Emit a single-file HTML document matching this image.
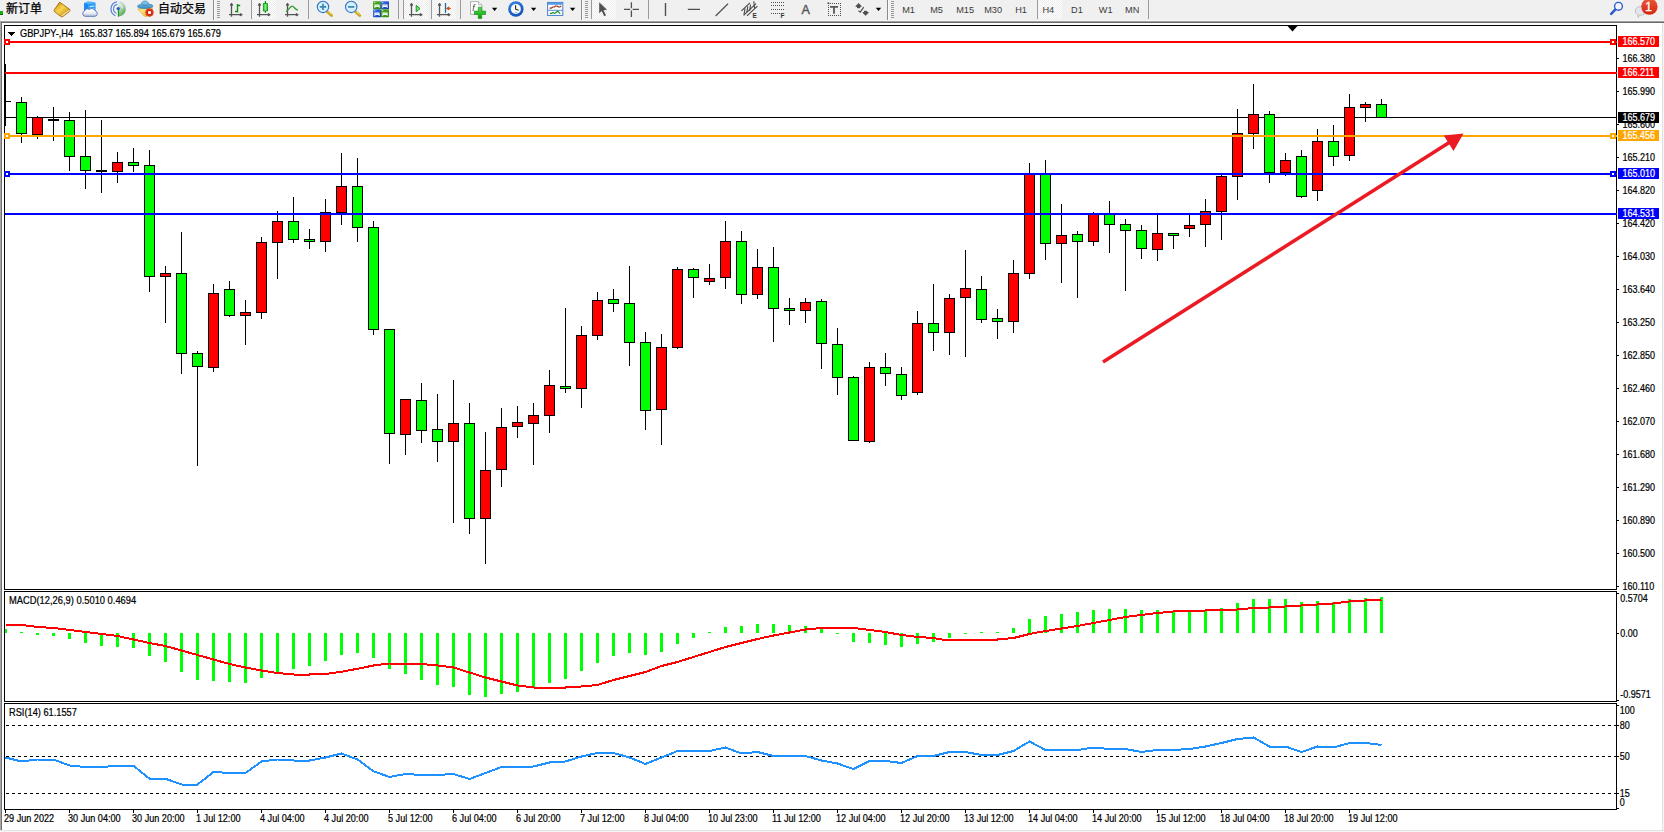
<!DOCTYPE html>
<html><head><meta charset="utf-8"><title>GBPJPY H4</title>
<style>
html,body{margin:0;padding:0;background:#fff;overflow:hidden}
body{width:1664px;height:832px;position:relative;font-family:"Liberation Sans","Noto Sans CJK SC",sans-serif}
#tb{position:absolute;left:0;top:0;width:1664px;height:20px;background:#f0f0f0}
#tbl{position:absolute;left:0;top:20px;width:1664px;height:3px;background:linear-gradient(#f6f6f6 0,#f6f6f6 33%,#a0a0a0 33%,#a0a0a0 66%,#696969 66%)}
#le1{position:absolute;left:0;top:22px;width:1px;height:808px;background:#a8a8a8}
#le2{position:absolute;left:1px;top:22px;width:1px;height:808px;background:#707070}
#re{position:absolute;left:1662px;top:23px;width:2px;height:809px;background:linear-gradient(90deg,#e2e2e2 50%,#f6f6f6 50%)}
#be{position:absolute;left:0;top:830px;width:1664px;height:2px;background:linear-gradient(#e2e2e2 50%,#f6f6f6 50%)}
.t{position:absolute;white-space:nowrap;color:#000}
</style></head><body>
<div id="tb"></div><div id="tbl"></div><div id="le1"></div><div id="le2"></div><div id="re"></div><div id="be"></div>
<svg id="toolbar" width="1664" height="24" viewBox="0 0 1664 24" style="position:absolute;left:0;top:0" font-family="'Liberation Sans','Noto Sans CJK SC',sans-serif">
<defs>
<pattern id="dith" width="2" height="2" patternUnits="userSpaceOnUse"><rect width="2" height="2" fill="#fff"/><rect width="1" height="1" fill="#ececec"/><rect x="1" y="1" width="1" height="1" fill="#ececec"/></pattern>
<linearGradient id="gold" x1="0" y1="0" x2="1" y2="1"><stop offset="0" stop-color="#c98a12"/><stop offset=".45" stop-color="#f7d64a"/><stop offset="1" stop-color="#b87610"/></linearGradient>
<linearGradient id="cube" x1="0" y1="0" x2="1" y2="0"><stop offset="0" stop-color="#1e8cf0"/><stop offset="1" stop-color="#7cc4ff"/></linearGradient>
<radialGradient id="radar" cx=".5" cy=".5" r=".5"><stop offset="0" stop-color="#d8ead8"/><stop offset="1" stop-color="#7fbf7f"/></radialGradient>
<linearGradient id="hat" x1="0" y1="0" x2="0" y2="1"><stop offset="0" stop-color="#8fd0f0"/><stop offset="1" stop-color="#3a8cc8"/></linearGradient>
<linearGradient id="face" x1="0" y1="0" x2="1" y2="1"><stop offset="0" stop-color="#fff3a0"/><stop offset="1" stop-color="#e8b820"/></linearGradient>
<linearGradient id="gplus" x1="0" y1="0" x2="0" y2="1"><stop offset="0" stop-color="#58e058"/><stop offset="1" stop-color="#0a9a0a"/></linearGradient>
<linearGradient id="gcan" x1="0" y1="0" x2="1" y2="0"><stop offset="0" stop-color="#22c022"/><stop offset=".5" stop-color="#7cf07c"/><stop offset="1" stop-color="#22c022"/></linearGradient>
<radialGradient id="clk" cx=".4" cy=".3" r=".8"><stop offset="0" stop-color="#3c8cf0"/><stop offset="1" stop-color="#0a4cb0"/></radialGradient>
<linearGradient id="badge" x1="0" y1="0" x2="0" y2="1"><stop offset="0" stop-color="#ea5a3a"/><stop offset="1" stop-color="#d6220e"/></linearGradient>
<linearGradient id="tg" x1="0" y1="0" x2="1" y2="1"><stop offset="0" stop-color="#58b020"/><stop offset="1" stop-color="#2a8a10"/></linearGradient>
<linearGradient id="tb2" x1="0" y1="0" x2="1" y2="1"><stop offset="0" stop-color="#4a7ae8"/><stop offset="1" stop-color="#1038b8"/></linearGradient>
<g id="axes" fill="none" stroke="#555" stroke-width="1.3"><path d="M3.5 3.5V16.8M1 14.7H13.6"/><path d="M2.3 5.3L3.5 3.1 4.7 5.3zM12.2 13.5L14.3 14.7 12.2 15.9z" stroke-width=".9" fill="#555"/></g>
<path id="dd" d="M0 0h5.4l-2.7 3.2z" fill="#000"/>
<g id="grip" fill="#9a9a9a"><rect y="1" width="3" height="1"/><rect y="3" width="3" height="1"/><rect y="5" width="3" height="1"/><rect y="7" width="3" height="1"/><rect y="9" width="3" height="1"/><rect y="11" width="3" height="1"/><rect y="13" width="3" height="1"/><rect y="15" width="3" height="1"/><rect y="17" width="3" height="1"/></g>
</defs>
<rect x="252" y="0" width="24" height="19" fill="url(#dith)"/>
<rect x="404" y="0" width="24" height="19" fill="url(#dith)"/>
<rect x="432" y="0" width="24" height="19" fill="url(#dith)"/>
<rect x="592" y="0" width="24" height="19" fill="url(#dith)"/>
<rect x="1038" y="0" width="24" height="19" fill="url(#dith)"/>
<rect x="213" y="0" width="1" height="20" fill="#8a8a8a"/><rect x="214" y="0" width="1" height="20" fill="#fbfbfb"/>
<rect x="581" y="0" width="1" height="20" fill="#8a8a8a"/><rect x="582" y="0" width="1" height="20" fill="#fbfbfb"/>
<rect x="887" y="0" width="1" height="20" fill="#8a8a8a"/><rect x="888" y="0" width="1" height="20" fill="#fbfbfb"/>
<rect x="251" y="0" width="1" height="19" fill="#9a9a9a"/>
<rect x="308" y="0" width="1" height="19" fill="#9a9a9a"/>
<rect x="398" y="0" width="1" height="19" fill="#9a9a9a"/>
<rect x="403" y="0" width="1" height="19" fill="#9a9a9a"/>
<rect x="431" y="0" width="1" height="19" fill="#9a9a9a"/>
<rect x="460" y="0" width="1" height="19" fill="#9a9a9a"/>
<rect x="591" y="0" width="1" height="19" fill="#9a9a9a"/>
<rect x="648" y="0" width="1" height="19" fill="#9a9a9a"/>
<rect x="1037" y="0" width="1" height="19" fill="#9a9a9a"/>
<rect x="1148" y="0" width="1" height="19" fill="#9a9a9a"/>
<use href="#grip" x="217" y="0"/>
<use href="#grip" x="585" y="0"/>
<use href="#grip" x="891" y="0"/>
<rect x="0" y="11" width="3" height="4" fill="#18b018"/><rect x="0" y="14" width="3" height="1" fill="#0a700a"/>
<text x="5.9" y="13" font-size="12" fill="#000" stroke="#000" stroke-width=".25">新订单</text>
<text x="158" y="13" font-size="12" fill="#000" stroke="#000" stroke-width=".25">自动交易</text>
<path d="M59.7 2.2L69.9 9.5Q70.4 10.6 69.3 11.7L62.7 16.6Q61.6 17.1 60.6 16.3L54.2 11.3Q53.7 10.4 54.6 9.3Z" fill="url(#gold)" stroke="#a86408" stroke-width=".9" stroke-linejoin="round"/><path d="M69.6 10.4L62 15.8" stroke="#f0e0b0" stroke-width="1.1" fill="none"/><path d="M58.8 3.4Q58 4.6 59.6 5.2" stroke="#a86408" stroke-width=".7" fill="none"/>
<path d="M84 3l4-1.8 7.4 1v8.600h-11.400z" fill="#58b4fa"/><path d="M84 3l4.200 1v7h-4.200z" fill="#1a8af0"/><path d="M88.200 4l7.200-.8v7.600h-7.200z" fill="#2c9cf6"/><path d="M89.600 6.200l4.600-.7v1l-4.600.7z" fill="#e6f4ff"/><path d="M89.600 8.400l4.600-.4v.8l-4.600.4z" fill="#a8d8ff"/>
<defs><linearGradient id="cld" x1="0" y1="0" x2="0" y2="1"><stop offset="0" stop-color="#ffffff"/><stop offset=".55" stop-color="#eef1f7"/><stop offset="1" stop-color="#b4c0da"/></linearGradient></defs>
<path d="M85 16.300a2.700 2.700 0 0 1 -.5-5.200a3 3 0 0 1 4.800-1.600a3.600 3.600 0 0 1 5.800 1.300a2.800 2.800 0 0 1 -.1 5.500z" fill="url(#cld)" stroke="#5472b4" stroke-width=".9"/>
<defs><linearGradient id="swp" x1="0" y1="0" x2=".6" y2="1"><stop offset="0" stop-color="#eef4ee"/><stop offset=".5" stop-color="#b4d6b4"/><stop offset="1" stop-color="#4c9e4c"/></linearGradient></defs>
<circle cx="118.200" cy="9" r="7.600" fill="#f2f4f8"/><path d="M118.200 1.400A7.600 7.600 0 0 1 118.200 16.600z" fill="url(#swp)"/>
<g fill="none" stroke-linecap="round"><path d="M116.600 1.900A7.300 7.300 0 0 0 115 15.500" stroke="#3f6fd0" stroke-width="1.200" opacity=".85"/><path d="M117 4.400A4.700 4.700 0 0 0 116.200 13.200" stroke="#3f6fd0" stroke-width="1.100" opacity=".8"/><path d="M119.600 4.500A4.700 4.700 0 0 1 122.800 8" stroke="#ffffff" stroke-width=".9" opacity=".7"/><path d="M120 1.900A7.300 7.300 0 0 1 125.400 8" stroke="#9ab4e0" stroke-width=".8" opacity=".6"/></g><circle cx="118.200" cy="8.600" r="1.700" fill="#2a5ad0"/><path d="M118.500 9.400V16.600" stroke="#1a9a1a" stroke-width="1.300"/>
<path d="M137.800 9L152.600 7.600 151 12 146.200 16.700 144.200 16z" fill="url(#face)" stroke="#d8a414" stroke-width=".6"/>
<path d="M137.400 6.600C138 4.600 140.400 4.400 141.400 4.200C141.600 1.700 143.400 1 145 1C146.600 1 148.400 1.700 148.600 4.200C150 4.300 152.600 4.500 153 6C152.400 7.600 148.600 8.500 145.200 8.500S138 8.200 137.400 6.600z" fill="url(#hat)" stroke="#2c7cb4" stroke-width=".7"/><path d="M141.600 4.600C143 5.600 147 5.600 148.400 4.600" stroke="#2c7cb4" stroke-width=".6" fill="none"/>
<circle cx="149.500" cy="12.600" r="4.100" fill="#d8240e"/><circle cx="149.500" cy="12.600" r="3.500" fill="none" stroke="#f06a50" stroke-width=".5" opacity=".6"/><rect x="148.100" y="11.200" width="2.800" height="2.800" fill="#fff"/>
<use href="#axes" x="228" y="0"/><path d="M237.5 4V12.6M237.5 5.5H240.2M235 11.5H237.5" stroke="#109010" stroke-width="1.4" fill="none"/>
<use href="#axes" x="256" y="0"/><path d="M265.4 1V12.8" stroke="#109010" stroke-width="1.3"/><rect x="263.3" y="3.6" width="4.3" height="7.3" fill="url(#gcan)" stroke="#109010" stroke-width=".8"/>
<use href="#axes" x="284" y="0"/><path d="M286.2 11.8C289 9 290.5 6.2 292.2 6.2S295 9.4 297.8 10" stroke="#2a9a2a" stroke-width="1.3" fill="none"/>
<path d="M326.6 11L331.5 15.5" stroke="#c8a010" stroke-width="2.8" stroke-linecap="round"/><path d="M327.2 11L331.2 14.6" stroke="#f4dc60" stroke-width="1" stroke-linecap="round"/>
<circle cx="323" cy="6.9" r="5.7" fill="#d4eefa" stroke="#2f72c4" stroke-width="1.1"/>
<path d="M319.8 6.9H326.2M323 3.7V10.1" stroke="#3c84ac" stroke-width="1.7" fill="none"/>
<path d="M354.8 11L359.7 15.5" stroke="#c8a010" stroke-width="2.8" stroke-linecap="round"/><path d="M355.4 11L359.4 14.6" stroke="#f4dc60" stroke-width="1" stroke-linecap="round"/>
<circle cx="351.2" cy="6.9" r="5.7" fill="#d4eefa" stroke="#2f72c4" stroke-width="1.1"/>
<path d="M348.0 6.9H354.4" stroke="#3c84ac" stroke-width="1.7" fill="none"/>
<rect x="373" y="1.2" width="8" height="8" rx=".8" fill="url(#tg)"/><path d="M374.4 4.4h5.2v3.6h-.8v-1h-3.6v1h-.8z" fill="#fff"/><rect x="375.2" y="5.4" width="3.6" height=".7" fill="#a8dca0"/><rect x="374.2" y="2.0" width="1" height="1" fill="#e8f4ff" opacity=".8"/>
<rect x="381" y="1.2" width="8" height="8" rx=".8" fill="url(#tb2)"/><path d="M382.4 4.4h5.2v3.6h-.8v-1h-3.6v1h-.8z" fill="#fff"/><rect x="383.2" y="5.4" width="3.6" height=".7" fill="#a8bcf0"/><rect x="382.2" y="2.0" width="1" height="1" fill="#e8f4ff" opacity=".8"/>
<rect x="373" y="9.2" width="8" height="8" rx=".8" fill="url(#tb2)"/><path d="M374.4 12.399999999999999h5.2v3.6h-.8v-1h-3.6v1h-.8z" fill="#fff"/><rect x="375.2" y="13.399999999999999" width="3.6" height=".7" fill="#a8bcf0"/><rect x="374.2" y="10.0" width="1" height="1" fill="#e8f4ff" opacity=".8"/>
<rect x="381" y="9.2" width="8" height="8" rx=".8" fill="url(#tg)"/><path d="M382.4 12.399999999999999h5.2v3.6h-.8v-1h-3.6v1h-.8z" fill="#fff"/><rect x="383.2" y="13.399999999999999" width="3.6" height=".7" fill="#a8dca0"/><rect x="382.2" y="10.0" width="1" height="1" fill="#e8f4ff" opacity=".8"/>
<use href="#axes" x="408" y="0"/><path d="M416.2 5.4V11.8L420 8.6z" fill="#7ce07c" stroke="#1a9a1a" stroke-width="1"/>
<use href="#axes" x="436" y="0"/><path d="M445.5 3V12.8" stroke="#1a6aa8" stroke-width="1.3"/><path d="M451 8.4H447M449 6.9L446.5 8.4 449 9.9z" stroke="#d84a08" stroke-width=".9" fill="#d84a08"/>
<path d="M470.5 1.6h8l3.4 3.2v9.6h-11.4z" fill="#fff" stroke="#a8a8a8" stroke-width=".9"/><path d="M478.5 1.6v3.2h3.4" fill="#e8e8e8" stroke="#a8a8a8" stroke-width=".7"/><text x="472.2" y="11" font-size="9" font-style="italic" fill="#4a4030">f</text>
<path d="M478.3 7.2h3.4v3.9h3.9v3.4h-3.9v3.9h-3.4v-3.9h-3.9v-3.4h3.9z" fill="url(#gplus)" stroke="#0a8a0a" stroke-width=".6"/>
<use href="#dd" x="491.9" y="7.8"/>
<circle cx="515.9" cy="9" r="7.7" fill="url(#clk)"/><circle cx="515.9" cy="9" r="5" fill="#f8f8f8"/><path d="M515.6 5.2V9.2L518.6 10.2" stroke="#222" stroke-width="1.1" fill="none"/><rect x="515.2" y="12" width="1.6" height=".8" fill="#5aa0f0"/>
<use href="#dd" x="530.9" y="7.8"/>
<rect x="547.6" y="2.4" width="15.2" height="13" fill="#fff" stroke="#3f7fd0" stroke-width="1"/><rect x="548" y="2.8" width="14.4" height="2" fill="#5a9ae8"/><path d="M548 10.3H562.6" stroke="#3f7fd0" stroke-width=".9"/><path d="M549.6 8.2h1.6l1.6-1.2h1.4l1.4-1h1.4l1.4 1h1.4l1.4-1" stroke="#a02808" stroke-width="1.2" fill="none"/><path d="M550 13.4h1.6l1.4-.9 1.6.9 1.4-.9 1.4-1.2 1.4.9 1.4 1.4" stroke="#18901a" stroke-width="1.2" fill="none"/>
<use href="#dd" x="569.9" y="7.8"/>
<path d="M599.2 2.2V13.2L601.7 11 604.3 16.2 606 15.3 603.5 10.2 607 9.8z" fill="#505050"/>
<path d="M624 9.4H630.2M632.6 9.4H639M631.4 2.2V8.2M631.4 10.6V16.9" stroke="#505050" stroke-width="1.3" fill="none"/>
<path d="M665.5 3V16M687.8 9.4H700" stroke="#505050" stroke-width="1.4" fill="none"/><path d="M715.6 16L728 3.7" stroke="#505050" stroke-width="1.2" fill="none"/>
<g stroke="#484848" fill="none"><path d="M741.4 10.8L750 2.8M743.6 15.4L756 3.6M747 15.8L757.4 6.2" stroke-width="1.15"/><path d="M745 8.4L744 14.6M747.8 6.4L746.8 12.4M750.6 4.6L749.6 10.8M753.8 1.2L754.6 8.4" stroke-width="1.1"/></g><text x="752.6" y="17.8" font-size="6.5" font-weight="bold" fill="#333">E</text>
<rect x="771" y="2" width="1" height="1" fill="#505050" shape-rendering="crispEdges"/>
<rect x="773" y="2" width="1" height="1" fill="#505050" shape-rendering="crispEdges"/>
<rect x="775" y="2" width="1" height="1" fill="#505050" shape-rendering="crispEdges"/>
<rect x="777" y="2" width="1" height="1" fill="#505050" shape-rendering="crispEdges"/>
<rect x="779" y="2" width="1" height="1" fill="#505050" shape-rendering="crispEdges"/>
<rect x="781" y="2" width="1" height="1" fill="#505050" shape-rendering="crispEdges"/>
<rect x="783" y="2" width="1" height="1" fill="#505050" shape-rendering="crispEdges"/>
<rect x="771" y="5" width="1" height="1" fill="#505050" shape-rendering="crispEdges"/>
<rect x="773" y="5" width="1" height="1" fill="#505050" shape-rendering="crispEdges"/>
<rect x="775" y="5" width="1" height="1" fill="#505050" shape-rendering="crispEdges"/>
<rect x="777" y="5" width="1" height="1" fill="#505050" shape-rendering="crispEdges"/>
<rect x="779" y="5" width="1" height="1" fill="#505050" shape-rendering="crispEdges"/>
<rect x="781" y="5" width="1" height="1" fill="#505050" shape-rendering="crispEdges"/>
<rect x="783" y="5" width="1" height="1" fill="#505050" shape-rendering="crispEdges"/>
<rect x="771" y="9" width="1" height="1" fill="#505050" shape-rendering="crispEdges"/>
<rect x="773" y="9" width="1" height="1" fill="#505050" shape-rendering="crispEdges"/>
<rect x="775" y="9" width="1" height="1" fill="#505050" shape-rendering="crispEdges"/>
<rect x="777" y="9" width="1" height="1" fill="#505050" shape-rendering="crispEdges"/>
<rect x="779" y="9" width="1" height="1" fill="#505050" shape-rendering="crispEdges"/>
<rect x="781" y="9" width="1" height="1" fill="#505050" shape-rendering="crispEdges"/>
<rect x="783" y="9" width="1" height="1" fill="#505050" shape-rendering="crispEdges"/>
<rect x="771" y="13" width="1" height="1" fill="#505050" shape-rendering="crispEdges"/>
<rect x="773" y="13" width="1" height="1" fill="#505050" shape-rendering="crispEdges"/>
<rect x="775" y="13" width="1" height="1" fill="#505050" shape-rendering="crispEdges"/>
<rect x="777" y="13" width="1" height="1" fill="#505050" shape-rendering="crispEdges"/>
<rect x="779" y="13" width="1" height="1" fill="#505050" shape-rendering="crispEdges"/>
<text x="780.6" y="17.7" font-size="6.5" font-weight="bold" fill="#333">F</text>
<text x="801.4" y="14" font-size="12.6" fill="#555" stroke="#555" stroke-width=".35">A</text>
<rect x="828" y="3" width="1" height="1" fill="#505050" shape-rendering="crispEdges"/><rect x="828" y="15" width="1" height="1" fill="#505050" shape-rendering="crispEdges"/>
<rect x="830" y="3" width="1" height="1" fill="#505050" shape-rendering="crispEdges"/><rect x="830" y="15" width="1" height="1" fill="#505050" shape-rendering="crispEdges"/>
<rect x="832" y="3" width="1" height="1" fill="#505050" shape-rendering="crispEdges"/><rect x="832" y="15" width="1" height="1" fill="#505050" shape-rendering="crispEdges"/>
<rect x="834" y="3" width="1" height="1" fill="#505050" shape-rendering="crispEdges"/><rect x="834" y="15" width="1" height="1" fill="#505050" shape-rendering="crispEdges"/>
<rect x="836" y="3" width="1" height="1" fill="#505050" shape-rendering="crispEdges"/><rect x="836" y="15" width="1" height="1" fill="#505050" shape-rendering="crispEdges"/>
<rect x="838" y="3" width="1" height="1" fill="#505050" shape-rendering="crispEdges"/><rect x="838" y="15" width="1" height="1" fill="#505050" shape-rendering="crispEdges"/>
<rect x="840" y="3" width="1" height="1" fill="#505050" shape-rendering="crispEdges"/><rect x="840" y="15" width="1" height="1" fill="#505050" shape-rendering="crispEdges"/>
<rect x="828" y="5" width="1" height="1" fill="#505050" shape-rendering="crispEdges"/><rect x="840" y="5" width="1" height="1" fill="#505050" shape-rendering="crispEdges"/>
<rect x="828" y="7" width="1" height="1" fill="#505050" shape-rendering="crispEdges"/><rect x="840" y="7" width="1" height="1" fill="#505050" shape-rendering="crispEdges"/>
<rect x="828" y="9" width="1" height="1" fill="#505050" shape-rendering="crispEdges"/><rect x="840" y="9" width="1" height="1" fill="#505050" shape-rendering="crispEdges"/>
<rect x="828" y="11" width="1" height="1" fill="#505050" shape-rendering="crispEdges"/><rect x="840" y="11" width="1" height="1" fill="#505050" shape-rendering="crispEdges"/>
<rect x="828" y="13" width="1" height="1" fill="#505050" shape-rendering="crispEdges"/><rect x="840" y="13" width="1" height="1" fill="#505050" shape-rendering="crispEdges"/>
<rect x="827.4" y="2.4" width="2" height="1.4" fill="#505050"/><path d="M830 6.8H838M834 6.8V13.8" stroke="#585858" stroke-width="1.8" fill="none"/>
<path d="M858.6 3L862 6.4 858.6 7.6 855.2 6.4z" fill="#505050"/><path d="M857 7h3.2v1.2H857z" fill="#505050"/><path d="M858.4 10.6l1.8 1.6 3.6-5" stroke="#505050" stroke-width="1.2" fill="none"/><path d="M865.6 15.8L862.2 12.4 865.6 11.2 869 12.4z" fill="#505050"/><path d="M864 10.8h3.2v1.2H864z" fill="#505050"/>
<use href="#dd" x="875.8" y="7.8"/>
<text transform="translate(902.2 12.8) scale(.93 1)" font-size="9.9" fill="#3a3a3a">M1</text>
<text transform="translate(930.2 12.8) scale(.93 1)" font-size="9.9" fill="#3a3a3a">M5</text>
<text transform="translate(956.2 12.8) scale(.93 1)" font-size="9.9" fill="#3a3a3a">M15</text>
<text transform="translate(984.2 12.8) scale(.93 1)" font-size="9.9" fill="#3a3a3a">M30</text>
<text transform="translate(1015.2 12.8) scale(.93 1)" font-size="9.9" fill="#3a3a3a">H1</text>
<text transform="translate(1042.4 12.8) scale(.93 1)" font-size="9.9" fill="#3a3a3a">H4</text>
<text transform="translate(1071 12.8) scale(.93 1)" font-size="9.9" fill="#3a3a3a">D1</text>
<text transform="translate(1098.8 12.8) scale(.93 1)" font-size="9.9" fill="#3a3a3a">W1</text>
<text transform="translate(1125 12.8) scale(.93 1)" font-size="9.9" fill="#3a3a3a">MN</text>
<path d="M1615.4 9.4L1611.2 13.8" stroke="#2a5cd0" stroke-width="2.6" stroke-linecap="round"/><circle cx="1618.5" cy="6.3" r="3.9" fill="#f6f6ff" stroke="#2a5cd0" stroke-width="1.4"/>
<path d="M1640.4 6.6c3 0 5.2 2 5.2 4.4s-2.2 4.2-5.2 4.2c-.3 0-.7 0-1 -.1l-1.2 2.4-.4-2.8c-1.6-.8-2.6-2.1-2.6-3.7 0-2.400 2.200-4.400 5.200-4.400z" fill="#e4e4ec" stroke="#b4b4b8" stroke-width=".8"/>
<circle cx="1649.4" cy="6.6" r="8.2" fill="url(#badge)"/><text x="1645" y="11" font-size="12.6" fill="#fff" stroke="#fff" stroke-width=".3">1</text>
</svg>
<svg id="chart" width="1664" height="832" viewBox="0 0 1664 832" style="position:absolute;left:0;top:0" font-family="'Liberation Sans', sans-serif" font-size="9.25" fill="#000">
<g shape-rendering="crispEdges">
<rect x="4" y="25" width="1613" height="1" fill="#000"/>
<rect x="4" y="589" width="1613" height="1" fill="#000"/>
<rect x="4" y="25" width="1" height="565" fill="#000"/>
<rect x="1616" y="25" width="1" height="565" fill="#000"/>
<rect x="4" y="591" width="1613" height="1" fill="#000"/>
<rect x="4" y="701" width="1613" height="1" fill="#000"/>
<rect x="4" y="591" width="1" height="111" fill="#000"/>
<rect x="1616" y="591" width="1" height="111" fill="#000"/>
<rect x="4" y="703" width="1613" height="1" fill="#000"/>
<rect x="4" y="809" width="1613" height="1" fill="#000"/>
<rect x="4" y="703" width="1" height="107" fill="#000"/>
<rect x="1616" y="703" width="1" height="107" fill="#000"/>
<rect x="5" y="117" width="1611" height="1" fill="#000"/>
<rect x="5" y="64" width="1" height="62" fill="#000"/>
<rect x="5" y="101" width="6" height="1" fill="#000"/>
<rect x="21" y="97" width="1" height="46" fill="#000"/>
<rect x="16" y="102" width="11" height="32" fill="#000"/>
<rect x="17" y="103" width="9" height="30" fill="#00ff00"/>
<rect x="37" y="116" width="1" height="23" fill="#000"/>
<rect x="32" y="117" width="11" height="18" fill="#000"/>
<rect x="33" y="118" width="9" height="16" fill="#ff0000"/>
<rect x="53" y="107" width="1" height="34" fill="#000"/>
<rect x="48" y="119" width="11" height="2" fill="#000"/>
<rect x="69" y="112" width="1" height="59" fill="#000"/>
<rect x="64" y="120" width="11" height="37" fill="#000"/>
<rect x="65" y="121" width="9" height="35" fill="#00ff00"/>
<rect x="85" y="110" width="1" height="79" fill="#000"/>
<rect x="80" y="156" width="11" height="15" fill="#000"/>
<rect x="81" y="157" width="9" height="13" fill="#00ff00"/>
<rect x="101" y="120" width="1" height="73" fill="#000"/>
<rect x="96" y="170" width="11" height="2" fill="#000"/>
<rect x="117" y="152" width="1" height="31" fill="#000"/>
<rect x="112" y="162" width="11" height="10" fill="#000"/>
<rect x="113" y="163" width="9" height="8" fill="#ff0000"/>
<rect x="133" y="148" width="1" height="24" fill="#000"/>
<rect x="128" y="162" width="11" height="4" fill="#000"/>
<rect x="129" y="163" width="9" height="2" fill="#00ff00"/>
<rect x="149" y="150" width="1" height="142" fill="#000"/>
<rect x="144" y="165" width="11" height="112" fill="#000"/>
<rect x="145" y="166" width="9" height="110" fill="#00ff00"/>
<rect x="165" y="266" width="1" height="57" fill="#000"/>
<rect x="160" y="273" width="11" height="4" fill="#000"/>
<rect x="161" y="274" width="9" height="2" fill="#ff0000"/>
<rect x="181" y="232" width="1" height="142" fill="#000"/>
<rect x="176" y="273" width="11" height="81" fill="#000"/>
<rect x="177" y="274" width="9" height="79" fill="#00ff00"/>
<rect x="197" y="351" width="1" height="115" fill="#000"/>
<rect x="192" y="353" width="11" height="14" fill="#000"/>
<rect x="193" y="354" width="9" height="12" fill="#00ff00"/>
<rect x="213" y="284" width="1" height="88" fill="#000"/>
<rect x="208" y="293" width="11" height="75" fill="#000"/>
<rect x="209" y="294" width="9" height="73" fill="#ff0000"/>
<rect x="229" y="281" width="1" height="36" fill="#000"/>
<rect x="224" y="289" width="11" height="27" fill="#000"/>
<rect x="225" y="290" width="9" height="25" fill="#00ff00"/>
<rect x="245" y="300" width="1" height="45" fill="#000"/>
<rect x="240" y="312" width="11" height="4" fill="#000"/>
<rect x="241" y="313" width="9" height="2" fill="#ff0000"/>
<rect x="261" y="237" width="1" height="82" fill="#000"/>
<rect x="256" y="242" width="11" height="71" fill="#000"/>
<rect x="257" y="243" width="9" height="69" fill="#ff0000"/>
<rect x="277" y="211" width="1" height="68" fill="#000"/>
<rect x="272" y="221" width="11" height="22" fill="#000"/>
<rect x="273" y="222" width="9" height="20" fill="#ff0000"/>
<rect x="293" y="197" width="1" height="46" fill="#000"/>
<rect x="288" y="221" width="11" height="19" fill="#000"/>
<rect x="289" y="222" width="9" height="17" fill="#00ff00"/>
<rect x="309" y="229" width="1" height="20" fill="#000"/>
<rect x="304" y="239" width="11" height="3" fill="#000"/>
<rect x="305" y="240" width="9" height="1" fill="#00ff00"/>
<rect x="325" y="199" width="1" height="53" fill="#000"/>
<rect x="320" y="212" width="11" height="30" fill="#000"/>
<rect x="321" y="213" width="9" height="28" fill="#ff0000"/>
<rect x="341" y="153" width="1" height="72" fill="#000"/>
<rect x="336" y="186" width="11" height="27" fill="#000"/>
<rect x="337" y="187" width="9" height="25" fill="#ff0000"/>
<rect x="357" y="158" width="1" height="84" fill="#000"/>
<rect x="352" y="186" width="11" height="42" fill="#000"/>
<rect x="353" y="187" width="9" height="40" fill="#00ff00"/>
<rect x="373" y="221" width="1" height="114" fill="#000"/>
<rect x="368" y="227" width="11" height="103" fill="#000"/>
<rect x="369" y="228" width="9" height="101" fill="#00ff00"/>
<rect x="389" y="329" width="1" height="135" fill="#000"/>
<rect x="384" y="329" width="11" height="105" fill="#000"/>
<rect x="385" y="330" width="9" height="103" fill="#00ff00"/>
<rect x="405" y="399" width="1" height="56" fill="#000"/>
<rect x="400" y="399" width="11" height="36" fill="#000"/>
<rect x="401" y="400" width="9" height="34" fill="#ff0000"/>
<rect x="421" y="383" width="1" height="60" fill="#000"/>
<rect x="416" y="400" width="11" height="31" fill="#000"/>
<rect x="417" y="401" width="9" height="29" fill="#00ff00"/>
<rect x="437" y="394" width="1" height="68" fill="#000"/>
<rect x="432" y="429" width="11" height="13" fill="#000"/>
<rect x="433" y="430" width="9" height="11" fill="#00ff00"/>
<rect x="453" y="380" width="1" height="143" fill="#000"/>
<rect x="448" y="423" width="11" height="19" fill="#000"/>
<rect x="449" y="424" width="9" height="17" fill="#ff0000"/>
<rect x="469" y="403" width="1" height="131" fill="#000"/>
<rect x="464" y="423" width="11" height="96" fill="#000"/>
<rect x="465" y="424" width="9" height="94" fill="#00ff00"/>
<rect x="485" y="432" width="1" height="132" fill="#000"/>
<rect x="480" y="470" width="11" height="49" fill="#000"/>
<rect x="481" y="471" width="9" height="47" fill="#ff0000"/>
<rect x="501" y="408" width="1" height="79" fill="#000"/>
<rect x="496" y="427" width="11" height="43" fill="#000"/>
<rect x="497" y="428" width="9" height="41" fill="#ff0000"/>
<rect x="517" y="406" width="1" height="32" fill="#000"/>
<rect x="512" y="422" width="11" height="5" fill="#000"/>
<rect x="513" y="423" width="9" height="3" fill="#ff0000"/>
<rect x="533" y="403" width="1" height="62" fill="#000"/>
<rect x="528" y="415" width="11" height="9" fill="#000"/>
<rect x="529" y="416" width="9" height="7" fill="#ff0000"/>
<rect x="549" y="370" width="1" height="63" fill="#000"/>
<rect x="544" y="385" width="11" height="31" fill="#000"/>
<rect x="545" y="386" width="9" height="29" fill="#ff0000"/>
<rect x="565" y="308" width="1" height="85" fill="#000"/>
<rect x="560" y="386" width="11" height="3" fill="#000"/>
<rect x="561" y="387" width="9" height="1" fill="#00ff00"/>
<rect x="581" y="326" width="1" height="82" fill="#000"/>
<rect x="576" y="335" width="11" height="54" fill="#000"/>
<rect x="577" y="336" width="9" height="52" fill="#ff0000"/>
<rect x="597" y="292" width="1" height="48" fill="#000"/>
<rect x="592" y="300" width="11" height="36" fill="#000"/>
<rect x="593" y="301" width="9" height="34" fill="#ff0000"/>
<rect x="613" y="289" width="1" height="23" fill="#000"/>
<rect x="608" y="299" width="11" height="5" fill="#000"/>
<rect x="609" y="300" width="9" height="3" fill="#00ff00"/>
<rect x="629" y="266" width="1" height="100" fill="#000"/>
<rect x="624" y="303" width="11" height="40" fill="#000"/>
<rect x="625" y="304" width="9" height="38" fill="#00ff00"/>
<rect x="645" y="332" width="1" height="98" fill="#000"/>
<rect x="640" y="342" width="11" height="69" fill="#000"/>
<rect x="641" y="343" width="9" height="67" fill="#00ff00"/>
<rect x="661" y="334" width="1" height="111" fill="#000"/>
<rect x="656" y="347" width="11" height="63" fill="#000"/>
<rect x="657" y="348" width="9" height="61" fill="#ff0000"/>
<rect x="677" y="267" width="1" height="82" fill="#000"/>
<rect x="672" y="269" width="11" height="79" fill="#000"/>
<rect x="673" y="270" width="9" height="77" fill="#ff0000"/>
<rect x="693" y="268" width="1" height="30" fill="#000"/>
<rect x="688" y="269" width="11" height="9" fill="#000"/>
<rect x="689" y="270" width="9" height="7" fill="#00ff00"/>
<rect x="709" y="264" width="1" height="21" fill="#000"/>
<rect x="704" y="278" width="11" height="4" fill="#000"/>
<rect x="705" y="279" width="9" height="2" fill="#ff0000"/>
<rect x="725" y="221" width="1" height="68" fill="#000"/>
<rect x="720" y="241" width="11" height="37" fill="#000"/>
<rect x="721" y="242" width="9" height="35" fill="#ff0000"/>
<rect x="741" y="231" width="1" height="73" fill="#000"/>
<rect x="736" y="241" width="11" height="54" fill="#000"/>
<rect x="737" y="242" width="9" height="52" fill="#00ff00"/>
<rect x="757" y="249" width="1" height="50" fill="#000"/>
<rect x="752" y="267" width="11" height="28" fill="#000"/>
<rect x="753" y="268" width="9" height="26" fill="#ff0000"/>
<rect x="773" y="247" width="1" height="95" fill="#000"/>
<rect x="768" y="267" width="11" height="42" fill="#000"/>
<rect x="769" y="268" width="9" height="40" fill="#00ff00"/>
<rect x="789" y="298" width="1" height="27" fill="#000"/>
<rect x="784" y="308" width="11" height="3" fill="#000"/>
<rect x="785" y="309" width="9" height="1" fill="#00ff00"/>
<rect x="805" y="298" width="1" height="25" fill="#000"/>
<rect x="800" y="302" width="11" height="9" fill="#000"/>
<rect x="801" y="303" width="9" height="7" fill="#ff0000"/>
<rect x="821" y="299" width="1" height="70" fill="#000"/>
<rect x="816" y="301" width="11" height="43" fill="#000"/>
<rect x="817" y="302" width="9" height="41" fill="#00ff00"/>
<rect x="837" y="328" width="1" height="67" fill="#000"/>
<rect x="832" y="344" width="11" height="34" fill="#000"/>
<rect x="833" y="345" width="9" height="32" fill="#00ff00"/>
<rect x="853" y="376" width="1" height="65" fill="#000"/>
<rect x="848" y="377" width="11" height="64" fill="#000"/>
<rect x="849" y="378" width="9" height="62" fill="#00ff00"/>
<rect x="869" y="362" width="1" height="81" fill="#000"/>
<rect x="864" y="367" width="11" height="75" fill="#000"/>
<rect x="865" y="368" width="9" height="73" fill="#ff0000"/>
<rect x="885" y="353" width="1" height="33" fill="#000"/>
<rect x="880" y="367" width="11" height="7" fill="#000"/>
<rect x="881" y="368" width="9" height="5" fill="#00ff00"/>
<rect x="901" y="367" width="1" height="33" fill="#000"/>
<rect x="896" y="374" width="11" height="22" fill="#000"/>
<rect x="897" y="375" width="9" height="20" fill="#00ff00"/>
<rect x="917" y="311" width="1" height="84" fill="#000"/>
<rect x="912" y="323" width="11" height="70" fill="#000"/>
<rect x="913" y="324" width="9" height="68" fill="#ff0000"/>
<rect x="933" y="284" width="1" height="67" fill="#000"/>
<rect x="928" y="323" width="11" height="10" fill="#000"/>
<rect x="929" y="324" width="9" height="8" fill="#00ff00"/>
<rect x="949" y="294" width="1" height="61" fill="#000"/>
<rect x="944" y="298" width="11" height="35" fill="#000"/>
<rect x="945" y="299" width="9" height="33" fill="#ff0000"/>
<rect x="965" y="250" width="1" height="107" fill="#000"/>
<rect x="960" y="288" width="11" height="10" fill="#000"/>
<rect x="961" y="289" width="9" height="8" fill="#ff0000"/>
<rect x="981" y="276" width="1" height="47" fill="#000"/>
<rect x="976" y="289" width="11" height="31" fill="#000"/>
<rect x="977" y="290" width="9" height="29" fill="#00ff00"/>
<rect x="997" y="309" width="1" height="30" fill="#000"/>
<rect x="992" y="318" width="11" height="4" fill="#000"/>
<rect x="993" y="319" width="9" height="2" fill="#00ff00"/>
<rect x="1013" y="260" width="1" height="73" fill="#000"/>
<rect x="1008" y="273" width="11" height="49" fill="#000"/>
<rect x="1009" y="274" width="9" height="47" fill="#ff0000"/>
<rect x="1029" y="163" width="1" height="116" fill="#000"/>
<rect x="1024" y="174" width="11" height="100" fill="#000"/>
<rect x="1025" y="175" width="9" height="98" fill="#ff0000"/>
<rect x="1045" y="160" width="1" height="100" fill="#000"/>
<rect x="1040" y="174" width="11" height="70" fill="#000"/>
<rect x="1041" y="175" width="9" height="68" fill="#00ff00"/>
<rect x="1061" y="204" width="1" height="79" fill="#000"/>
<rect x="1056" y="235" width="11" height="9" fill="#000"/>
<rect x="1057" y="236" width="9" height="7" fill="#ff0000"/>
<rect x="1077" y="231" width="1" height="67" fill="#000"/>
<rect x="1072" y="234" width="11" height="8" fill="#000"/>
<rect x="1073" y="235" width="9" height="6" fill="#00ff00"/>
<rect x="1093" y="212" width="1" height="34" fill="#000"/>
<rect x="1088" y="214" width="11" height="28" fill="#000"/>
<rect x="1089" y="215" width="9" height="26" fill="#ff0000"/>
<rect x="1109" y="201" width="1" height="52" fill="#000"/>
<rect x="1104" y="214" width="11" height="11" fill="#000"/>
<rect x="1105" y="215" width="9" height="9" fill="#00ff00"/>
<rect x="1125" y="219" width="1" height="72" fill="#000"/>
<rect x="1120" y="224" width="11" height="7" fill="#000"/>
<rect x="1121" y="225" width="9" height="5" fill="#00ff00"/>
<rect x="1141" y="225" width="1" height="34" fill="#000"/>
<rect x="1136" y="230" width="11" height="19" fill="#000"/>
<rect x="1137" y="231" width="9" height="17" fill="#00ff00"/>
<rect x="1157" y="214" width="1" height="47" fill="#000"/>
<rect x="1152" y="233" width="11" height="17" fill="#000"/>
<rect x="1153" y="234" width="9" height="15" fill="#ff0000"/>
<rect x="1173" y="233" width="1" height="16" fill="#000"/>
<rect x="1168" y="233" width="11" height="3" fill="#000"/>
<rect x="1169" y="234" width="9" height="1" fill="#00ff00"/>
<rect x="1189" y="214" width="1" height="23" fill="#000"/>
<rect x="1184" y="225" width="11" height="4" fill="#000"/>
<rect x="1185" y="226" width="9" height="2" fill="#ff0000"/>
<rect x="1205" y="199" width="1" height="48" fill="#000"/>
<rect x="1200" y="211" width="11" height="14" fill="#000"/>
<rect x="1201" y="212" width="9" height="12" fill="#ff0000"/>
<rect x="1221" y="175" width="1" height="65" fill="#000"/>
<rect x="1216" y="176" width="11" height="36" fill="#000"/>
<rect x="1217" y="177" width="9" height="34" fill="#ff0000"/>
<rect x="1237" y="109" width="1" height="91" fill="#000"/>
<rect x="1232" y="133" width="11" height="44" fill="#000"/>
<rect x="1233" y="134" width="9" height="42" fill="#ff0000"/>
<rect x="1253" y="84" width="1" height="65" fill="#000"/>
<rect x="1248" y="114" width="11" height="20" fill="#000"/>
<rect x="1249" y="115" width="9" height="18" fill="#ff0000"/>
<rect x="1269" y="111" width="1" height="72" fill="#000"/>
<rect x="1264" y="114" width="11" height="59" fill="#000"/>
<rect x="1265" y="115" width="9" height="57" fill="#00ff00"/>
<rect x="1285" y="153" width="1" height="23" fill="#000"/>
<rect x="1280" y="160" width="11" height="13" fill="#000"/>
<rect x="1281" y="161" width="9" height="11" fill="#ff0000"/>
<rect x="1301" y="150" width="1" height="48" fill="#000"/>
<rect x="1296" y="156" width="11" height="41" fill="#000"/>
<rect x="1297" y="157" width="9" height="39" fill="#00ff00"/>
<rect x="1317" y="129" width="1" height="72" fill="#000"/>
<rect x="1312" y="141" width="11" height="50" fill="#000"/>
<rect x="1313" y="142" width="9" height="48" fill="#ff0000"/>
<rect x="1333" y="125" width="1" height="41" fill="#000"/>
<rect x="1328" y="141" width="11" height="16" fill="#000"/>
<rect x="1329" y="142" width="9" height="14" fill="#00ff00"/>
<rect x="1349" y="94" width="1" height="67" fill="#000"/>
<rect x="1344" y="107" width="11" height="49" fill="#000"/>
<rect x="1345" y="108" width="9" height="47" fill="#ff0000"/>
<rect x="1365" y="102" width="1" height="20" fill="#000"/>
<rect x="1360" y="104" width="11" height="4" fill="#000"/>
<rect x="1361" y="105" width="9" height="2" fill="#ff0000"/>
<rect x="1381" y="99" width="1" height="19" fill="#000"/>
<rect x="1376" y="104" width="11" height="14" fill="#000"/>
<rect x="1377" y="105" width="9" height="12" fill="#00ff00"/>
<rect x="5" y="41" width="1612" height="2" fill="#ff0000"/>
<rect x="4" y="39" width="6" height="6" fill="#ff0000"/><rect x="6" y="41" width="2" height="2" fill="#fff"/>
<rect x="1610" y="39" width="6" height="6" fill="#ff0000"/><rect x="1612" y="41" width="2" height="2" fill="#fff"/>
<rect x="5" y="72" width="1612" height="2" fill="#ff0000"/>
<rect x="5" y="135" width="1612" height="2" fill="#ffa500"/>
<rect x="4" y="133" width="6" height="6" fill="#ffa500"/><rect x="6" y="135" width="2" height="2" fill="#fff"/>
<rect x="1610" y="133" width="6" height="6" fill="#ffa500"/><rect x="1612" y="135" width="2" height="2" fill="#fff"/>
<rect x="5" y="173" width="1612" height="2" fill="#0000ff"/>
<rect x="4" y="171" width="6" height="6" fill="#0000ff"/><rect x="6" y="173" width="2" height="2" fill="#fff"/>
<rect x="1610" y="171" width="6" height="6" fill="#0000ff"/><rect x="1612" y="173" width="2" height="2" fill="#fff"/>
<rect x="5" y="213" width="1612" height="2" fill="#0000ff"/>
<polygon points="1287.5,26 1297.5,26 1292.5,31.5" fill="#000" shape-rendering="auto"/>
<rect x="8" y="32" width="7" height="1" fill="#000"/><rect x="9" y="33" width="5" height="1" fill="#000"/><rect x="10" y="34" width="3" height="1" fill="#000"/><rect x="11" y="35" width="1" height="1" fill="#000"/>
<rect x="1617" y="58" width="2" height="1" fill="#000"/>
<rect x="1617" y="91" width="2" height="1" fill="#000"/>
<rect x="1617" y="124" width="2" height="1" fill="#000"/>
<rect x="1617" y="157" width="2" height="1" fill="#000"/>
<rect x="1617" y="190" width="2" height="1" fill="#000"/>
<rect x="1617" y="223" width="2" height="1" fill="#000"/>
<rect x="1617" y="256" width="2" height="1" fill="#000"/>
<rect x="1617" y="289" width="2" height="1" fill="#000"/>
<rect x="1617" y="322" width="2" height="1" fill="#000"/>
<rect x="1617" y="355" width="2" height="1" fill="#000"/>
<rect x="1617" y="388" width="2" height="1" fill="#000"/>
<rect x="1617" y="421" width="2" height="1" fill="#000"/>
<rect x="1617" y="454" width="2" height="1" fill="#000"/>
<rect x="1617" y="487" width="2" height="1" fill="#000"/>
<rect x="1617" y="520" width="2" height="1" fill="#000"/>
<rect x="1617" y="553" width="2" height="1" fill="#000"/>
<rect x="1617" y="586" width="2" height="1" fill="#000"/>
<rect x="5" y="629" width="2" height="4" fill="#00ff00"/>
<rect x="20" y="632" width="3" height="1" fill="#00ff00"/>
<rect x="36" y="633" width="3" height="2" fill="#00ff00"/>
<rect x="52" y="633" width="3" height="3" fill="#00ff00"/>
<rect x="68" y="633" width="3" height="6" fill="#00ff00"/>
<rect x="84" y="633" width="3" height="10" fill="#00ff00"/>
<rect x="100" y="633" width="3" height="13" fill="#00ff00"/>
<rect x="116" y="633" width="3" height="14" fill="#00ff00"/>
<rect x="132" y="633" width="3" height="15" fill="#00ff00"/>
<rect x="148" y="633" width="3" height="23" fill="#00ff00"/>
<rect x="164" y="633" width="3" height="29" fill="#00ff00"/>
<rect x="180" y="633" width="3" height="39" fill="#00ff00"/>
<rect x="196" y="633" width="3" height="47" fill="#00ff00"/>
<rect x="212" y="633" width="3" height="48" fill="#00ff00"/>
<rect x="228" y="633" width="3" height="49" fill="#00ff00"/>
<rect x="244" y="633" width="3" height="50" fill="#00ff00"/>
<rect x="260" y="633" width="3" height="45" fill="#00ff00"/>
<rect x="276" y="633" width="3" height="39" fill="#00ff00"/>
<rect x="292" y="633" width="3" height="36" fill="#00ff00"/>
<rect x="308" y="633" width="3" height="33" fill="#00ff00"/>
<rect x="324" y="633" width="3" height="28" fill="#00ff00"/>
<rect x="340" y="633" width="3" height="22" fill="#00ff00"/>
<rect x="356" y="633" width="3" height="20" fill="#00ff00"/>
<rect x="372" y="633" width="3" height="25" fill="#00ff00"/>
<rect x="388" y="633" width="3" height="36" fill="#00ff00"/>
<rect x="404" y="633" width="3" height="41" fill="#00ff00"/>
<rect x="420" y="633" width="3" height="47" fill="#00ff00"/>
<rect x="436" y="633" width="3" height="52" fill="#00ff00"/>
<rect x="452" y="633" width="3" height="54" fill="#00ff00"/>
<rect x="468" y="633" width="3" height="62" fill="#00ff00"/>
<rect x="484" y="633" width="3" height="64" fill="#00ff00"/>
<rect x="500" y="633" width="3" height="61" fill="#00ff00"/>
<rect x="516" y="633" width="3" height="59" fill="#00ff00"/>
<rect x="532" y="633" width="3" height="55" fill="#00ff00"/>
<rect x="548" y="633" width="3" height="50" fill="#00ff00"/>
<rect x="564" y="633" width="3" height="46" fill="#00ff00"/>
<rect x="580" y="633" width="3" height="38" fill="#00ff00"/>
<rect x="596" y="633" width="3" height="30" fill="#00ff00"/>
<rect x="612" y="633" width="3" height="23" fill="#00ff00"/>
<rect x="628" y="633" width="3" height="20" fill="#00ff00"/>
<rect x="644" y="633" width="3" height="22" fill="#00ff00"/>
<rect x="660" y="633" width="3" height="19" fill="#00ff00"/>
<rect x="676" y="633" width="3" height="11" fill="#00ff00"/>
<rect x="692" y="633" width="3" height="5" fill="#00ff00"/>
<rect x="708" y="632" width="3" height="1" fill="#00ff00"/>
<rect x="724" y="627" width="3" height="6" fill="#00ff00"/>
<rect x="740" y="626" width="3" height="7" fill="#00ff00"/>
<rect x="756" y="624" width="3" height="9" fill="#00ff00"/>
<rect x="772" y="624" width="3" height="9" fill="#00ff00"/>
<rect x="788" y="625" width="3" height="8" fill="#00ff00"/>
<rect x="804" y="626" width="3" height="7" fill="#00ff00"/>
<rect x="820" y="628" width="3" height="5" fill="#00ff00"/>
<rect x="836" y="633" width="3" height="1" fill="#00ff00"/>
<rect x="852" y="633" width="3" height="9" fill="#00ff00"/>
<rect x="868" y="633" width="3" height="10" fill="#00ff00"/>
<rect x="884" y="633" width="3" height="12" fill="#00ff00"/>
<rect x="900" y="633" width="3" height="14" fill="#00ff00"/>
<rect x="916" y="633" width="3" height="11" fill="#00ff00"/>
<rect x="932" y="633" width="3" height="9" fill="#00ff00"/>
<rect x="948" y="633" width="3" height="5" fill="#00ff00"/>
<rect x="964" y="633" width="3" height="1" fill="#00ff00"/>
<rect x="980" y="632" width="3" height="1" fill="#00ff00"/>
<rect x="996" y="632" width="3" height="1" fill="#00ff00"/>
<rect x="1012" y="628" width="3" height="5" fill="#00ff00"/>
<rect x="1028" y="619" width="3" height="14" fill="#00ff00"/>
<rect x="1044" y="616" width="3" height="17" fill="#00ff00"/>
<rect x="1060" y="614" width="3" height="19" fill="#00ff00"/>
<rect x="1076" y="612" width="3" height="21" fill="#00ff00"/>
<rect x="1092" y="610" width="3" height="23" fill="#00ff00"/>
<rect x="1108" y="609" width="3" height="24" fill="#00ff00"/>
<rect x="1124" y="609" width="3" height="24" fill="#00ff00"/>
<rect x="1140" y="610" width="3" height="23" fill="#00ff00"/>
<rect x="1156" y="610" width="3" height="23" fill="#00ff00"/>
<rect x="1172" y="612" width="3" height="21" fill="#00ff00"/>
<rect x="1188" y="612" width="3" height="21" fill="#00ff00"/>
<rect x="1204" y="610" width="3" height="23" fill="#00ff00"/>
<rect x="1220" y="608" width="3" height="25" fill="#00ff00"/>
<rect x="1236" y="603" width="3" height="30" fill="#00ff00"/>
<rect x="1252" y="599" width="3" height="34" fill="#00ff00"/>
<rect x="1268" y="599" width="3" height="34" fill="#00ff00"/>
<rect x="1284" y="599" width="3" height="34" fill="#00ff00"/>
<rect x="1300" y="602" width="3" height="31" fill="#00ff00"/>
<rect x="1316" y="601" width="3" height="32" fill="#00ff00"/>
<rect x="1332" y="602" width="3" height="31" fill="#00ff00"/>
<rect x="1348" y="599" width="3" height="34" fill="#00ff00"/>
<rect x="1364" y="598" width="3" height="35" fill="#00ff00"/>
<rect x="1380" y="597" width="3" height="36" fill="#00ff00"/>
<path d="M6 725.5H1617" stroke="#000" stroke-width="1" stroke-dasharray="3 3" fill="none"/>
<path d="M6 756.5H1617" stroke="#000" stroke-width="1" stroke-dasharray="3 3" fill="none"/>
<path d="M6 793.5H1617" stroke="#000" stroke-width="1" stroke-dasharray="3 3" fill="none"/>
<rect x="5" y="810" width="1" height="3" fill="#000"/>
<rect x="69" y="810" width="1" height="3" fill="#000"/>
<rect x="133" y="810" width="1" height="3" fill="#000"/>
<rect x="197" y="810" width="1" height="3" fill="#000"/>
<rect x="261" y="810" width="1" height="3" fill="#000"/>
<rect x="325" y="810" width="1" height="3" fill="#000"/>
<rect x="389" y="810" width="1" height="3" fill="#000"/>
<rect x="453" y="810" width="1" height="3" fill="#000"/>
<rect x="517" y="810" width="1" height="3" fill="#000"/>
<rect x="581" y="810" width="1" height="3" fill="#000"/>
<rect x="645" y="810" width="1" height="3" fill="#000"/>
<rect x="709" y="810" width="1" height="3" fill="#000"/>
<rect x="773" y="810" width="1" height="3" fill="#000"/>
<rect x="837" y="810" width="1" height="3" fill="#000"/>
<rect x="901" y="810" width="1" height="3" fill="#000"/>
<rect x="965" y="810" width="1" height="3" fill="#000"/>
<rect x="1029" y="810" width="1" height="3" fill="#000"/>
<rect x="1093" y="810" width="1" height="3" fill="#000"/>
<rect x="1157" y="810" width="1" height="3" fill="#000"/>
<rect x="1221" y="810" width="1" height="3" fill="#000"/>
<rect x="1285" y="810" width="1" height="3" fill="#000"/>
<rect x="1349" y="810" width="1" height="3" fill="#000"/>
<rect x="1617" y="593" width="2" height="1" fill="#000"/>
<rect x="1617" y="633" width="2" height="1" fill="#000"/>
<rect x="1617" y="700" width="2" height="1" fill="#000"/>
<rect x="1617" y="705" width="2" height="1" fill="#000"/>
<rect x="1617" y="725" width="2" height="1" fill="#000"/>
<rect x="1617" y="756" width="2" height="1" fill="#000"/>
<rect x="1617" y="793" width="2" height="1" fill="#000"/>
<rect x="1617" y="808" width="2" height="1" fill="#000"/>
</g>
<polyline points="5.5,625 21.5,625 37.5,627 53.5,628 69.5,630 85.5,632 101.5,634 117.5,636 133.5,639.5 149.5,643 165.5,646 181.5,650.5 197.5,655 213.5,659.5 229.5,664 245.5,667.5 261.5,670.5 277.5,673 293.5,674.5 309.5,674.5 325.5,674 341.5,671.75 357.5,668.75 373.5,665.5 389.5,663.5 405.5,664 421.5,664 437.5,665.5 453.5,667.5 469.5,672.5 485.5,677.5 501.5,681.5 517.5,685.5 533.5,687.5 549.5,687.5 565.5,687.5 581.5,686.5 597.5,685 613.5,680 629.5,676 645.5,672 661.5,666 677.5,662 693.5,657 709.5,652 725.5,647 741.5,643 757.5,639 773.5,635.5 789.5,632.5 805.5,629.5 821.5,628 853.5,628 869.5,630 885.5,632 901.5,635 917.5,637 933.5,638 941.5,639.5 997.5,639.5 1013.5,638 1029.5,634 1045.5,631 1061.5,628.5 1077.5,626 1093.5,623 1109.5,620 1125.5,617 1141.5,615 1157.5,613 1173.5,611.5 1189.5,611 1205.5,610.5 1221.5,610 1237.5,609.5 1253.5,608 1269.5,607.5 1285.5,606.5 1301.5,605.5 1317.5,604.5 1333.5,603.5 1349.5,601.5 1365.5,600.5 1381.5,600" fill="none" stroke="#ff0000" stroke-width="2" stroke-linejoin="round" shape-rendering="crispEdges"/>
<polyline points="5.5,757.5 21.5,761.5 37.5,759.5 53.5,759.5 69.5,765.5 85.5,767 101.5,767 117.5,765.75 133.5,765.75 149.5,778.75 165.5,778.75 181.5,784.5 197.5,784.5 213.5,772 229.5,773 245.5,773 261.5,761.5 277.5,759.5 293.5,760.5 309.5,760.5 325.5,757.5 341.5,753.5 357.5,759.5 373.5,771.25 389.5,777 405.5,774 421.5,775 437.5,775 453.5,774 469.5,779 485.5,773 501.5,767 517.5,767 533.5,766.5 549.5,762.5 565.5,761.5 581.5,756.5 597.5,753 613.5,753 629.5,757.5 645.5,764 661.5,757.5 677.5,751 693.5,751 709.5,751 725.5,747.5 741.5,753.5 757.5,752 773.5,756 789.5,756 805.5,756 821.5,760.5 837.5,763.5 853.5,769 869.5,761 885.5,761 901.5,763 917.5,756 933.5,756 949.5,752 965.5,752 981.5,755 997.5,755 1013.5,751 1029.5,741.5 1045.5,750 1061.5,750 1077.5,750 1093.5,747.5 1109.5,749 1125.5,749 1141.5,752 1157.5,750 1173.5,750 1189.5,749 1205.5,746.5 1221.5,743 1237.5,739 1253.5,737.5 1269.5,746.5 1285.5,746.5 1301.5,752 1317.5,746.5 1333.5,747.5 1349.5,743 1365.5,743 1381.5,745" fill="none" stroke="#1e90ff" stroke-width="2" stroke-linejoin="round" shape-rendering="crispEdges"/>
<line x1="1103" y1="362" x2="1450" y2="142" stroke="#ec1a22" stroke-width="3.5"/>
<polygon points="1463.5,133.5 1443.8,135.6 1453.5,151" fill="#ec1a22"/>
<text transform="translate(20 37) scale(0.9081 1)" font-size="10.2" fill="#000" stroke="#000" stroke-width=".22">GBPJPY-,H4</text>
<text transform="translate(79.4 37) scale(0.9081 1)" font-size="10.2" fill="#000" stroke="#000" stroke-width=".22">165.837 165.894 165.679 165.679</text>
<text transform="translate(9 604) scale(0.9176 1)" font-size="10.2" fill="#000" stroke="#000" stroke-width=".22">MACD(12,26,9) 0.5010 0.4694</text>
<text transform="translate(9 716) scale(0.9081 1)" font-size="10.2" fill="#000" stroke="#000" stroke-width=".22">RSI(14) 61.1557</text>
<text transform="translate(4 822) scale(0.8938 1)" font-size="10.2" fill="#000" stroke="#000" stroke-width=".22">29 Jun 2022</text>
<text transform="translate(68 822) scale(0.8938 1)" font-size="10.2" fill="#000" stroke="#000" stroke-width=".22">30 Jun 04:00</text>
<text transform="translate(132 822) scale(0.8938 1)" font-size="10.2" fill="#000" stroke="#000" stroke-width=".22">30 Jun 20:00</text>
<text transform="translate(196 822) scale(0.8938 1)" font-size="10.2" fill="#000" stroke="#000" stroke-width=".22">1 Jul 12:00</text>
<text transform="translate(260 822) scale(0.8938 1)" font-size="10.2" fill="#000" stroke="#000" stroke-width=".22">4 Jul 04:00</text>
<text transform="translate(324 822) scale(0.8938 1)" font-size="10.2" fill="#000" stroke="#000" stroke-width=".22">4 Jul 20:00</text>
<text transform="translate(388 822) scale(0.8938 1)" font-size="10.2" fill="#000" stroke="#000" stroke-width=".22">5 Jul 12:00</text>
<text transform="translate(452 822) scale(0.8938 1)" font-size="10.2" fill="#000" stroke="#000" stroke-width=".22">6 Jul 04:00</text>
<text transform="translate(516 822) scale(0.8938 1)" font-size="10.2" fill="#000" stroke="#000" stroke-width=".22">6 Jul 20:00</text>
<text transform="translate(580 822) scale(0.8938 1)" font-size="10.2" fill="#000" stroke="#000" stroke-width=".22">7 Jul 12:00</text>
<text transform="translate(644 822) scale(0.8938 1)" font-size="10.2" fill="#000" stroke="#000" stroke-width=".22">8 Jul 04:00</text>
<text transform="translate(708 822) scale(0.8938 1)" font-size="10.2" fill="#000" stroke="#000" stroke-width=".22">10 Jul 23:00</text>
<text transform="translate(772 822) scale(0.8938 1)" font-size="10.2" fill="#000" stroke="#000" stroke-width=".22">11 Jul 12:00</text>
<text transform="translate(836 822) scale(0.8938 1)" font-size="10.2" fill="#000" stroke="#000" stroke-width=".22">12 Jul 04:00</text>
<text transform="translate(900 822) scale(0.8938 1)" font-size="10.2" fill="#000" stroke="#000" stroke-width=".22">12 Jul 20:00</text>
<text transform="translate(964 822) scale(0.8938 1)" font-size="10.2" fill="#000" stroke="#000" stroke-width=".22">13 Jul 12:00</text>
<text transform="translate(1028 822) scale(0.8938 1)" font-size="10.2" fill="#000" stroke="#000" stroke-width=".22">14 Jul 04:00</text>
<text transform="translate(1092 822) scale(0.8938 1)" font-size="10.2" fill="#000" stroke="#000" stroke-width=".22">14 Jul 20:00</text>
<text transform="translate(1156 822) scale(0.8938 1)" font-size="10.2" fill="#000" stroke="#000" stroke-width=".22">15 Jul 12:00</text>
<text transform="translate(1220 822) scale(0.8938 1)" font-size="10.2" fill="#000" stroke="#000" stroke-width=".22">18 Jul 04:00</text>
<text transform="translate(1284 822) scale(0.8938 1)" font-size="10.2" fill="#000" stroke="#000" stroke-width=".22">18 Jul 20:00</text>
<text transform="translate(1348 822) scale(0.8938 1)" font-size="10.2" fill="#000" stroke="#000" stroke-width=".22">19 Jul 12:00</text>
<text transform="translate(1622.5 62.2) scale(0.8823 1)" font-size="10.2" fill="#000" stroke="#000" stroke-width=".22">166.380</text>
<text transform="translate(1622.5 95.2) scale(0.8823 1)" font-size="10.2" fill="#000" stroke="#000" stroke-width=".22">165.990</text>
<text transform="translate(1622.5 128.2) scale(0.8823 1)" font-size="10.2" fill="#000" stroke="#000" stroke-width=".22">165.600</text>
<text transform="translate(1622.5 161.2) scale(0.8823 1)" font-size="10.2" fill="#000" stroke="#000" stroke-width=".22">165.210</text>
<text transform="translate(1622.5 194.2) scale(0.8823 1)" font-size="10.2" fill="#000" stroke="#000" stroke-width=".22">164.820</text>
<text transform="translate(1622.5 227.2) scale(0.8823 1)" font-size="10.2" fill="#000" stroke="#000" stroke-width=".22">164.420</text>
<text transform="translate(1622.5 260.2) scale(0.8823 1)" font-size="10.2" fill="#000" stroke="#000" stroke-width=".22">164.030</text>
<text transform="translate(1622.5 293.2) scale(0.8823 1)" font-size="10.2" fill="#000" stroke="#000" stroke-width=".22">163.640</text>
<text transform="translate(1622.5 326.2) scale(0.8823 1)" font-size="10.2" fill="#000" stroke="#000" stroke-width=".22">163.250</text>
<text transform="translate(1622.5 359.2) scale(0.8823 1)" font-size="10.2" fill="#000" stroke="#000" stroke-width=".22">162.850</text>
<text transform="translate(1622.5 392.2) scale(0.8823 1)" font-size="10.2" fill="#000" stroke="#000" stroke-width=".22">162.460</text>
<text transform="translate(1622.5 425.2) scale(0.8823 1)" font-size="10.2" fill="#000" stroke="#000" stroke-width=".22">162.070</text>
<text transform="translate(1622.5 458.2) scale(0.8823 1)" font-size="10.2" fill="#000" stroke="#000" stroke-width=".22">161.680</text>
<text transform="translate(1622.5 491.2) scale(0.8823 1)" font-size="10.2" fill="#000" stroke="#000" stroke-width=".22">161.290</text>
<text transform="translate(1622.5 524.2) scale(0.8823 1)" font-size="10.2" fill="#000" stroke="#000" stroke-width=".22">160.890</text>
<text transform="translate(1622.5 557.2) scale(0.8823 1)" font-size="10.2" fill="#000" stroke="#000" stroke-width=".22">160.500</text>
<text transform="translate(1622.5 590.2) scale(0.8823 1)" font-size="10.2" fill="#000" stroke="#000" stroke-width=".22">160.110</text>
<rect x="1618" y="36" width="41" height="11" fill="#ff0000" shape-rendering="crispEdges"/>
<text transform="translate(1622.5 45.2) scale(0.8823 1)" font-size="10.2" fill="#fff" stroke="#fff" stroke-width=".22">166.570</text>
<rect x="1618" y="67" width="41" height="11" fill="#ff0000" shape-rendering="crispEdges"/>
<text transform="translate(1622.5 76.2) scale(0.8823 1)" font-size="10.2" fill="#fff" stroke="#fff" stroke-width=".22">166.211</text>
<rect x="1618" y="112" width="41" height="11" fill="#000000" shape-rendering="crispEdges"/>
<text transform="translate(1622.5 121.2) scale(0.8823 1)" font-size="10.2" fill="#fff" stroke="#fff" stroke-width=".22">165.679</text>
<rect x="1618" y="130" width="41" height="11" fill="#ffa500" shape-rendering="crispEdges"/>
<text transform="translate(1622.5 139.2) scale(0.8823 1)" font-size="10.2" fill="#fff" stroke="#fff" stroke-width=".22">165.456</text>
<rect x="1618" y="168" width="41" height="11" fill="#0000ff" shape-rendering="crispEdges"/>
<text transform="translate(1622.5 177.2) scale(0.8823 1)" font-size="10.2" fill="#fff" stroke="#fff" stroke-width=".22">165.010</text>
<rect x="1618" y="208" width="41" height="11" fill="#0000ff" shape-rendering="crispEdges"/>
<text transform="translate(1622.5 217.2) scale(0.8823 1)" font-size="10.2" fill="#fff" stroke="#fff" stroke-width=".22">164.531</text>
<text transform="translate(1620.3 602.2) scale(0.8823 1)" font-size="10.2" fill="#000" stroke="#000" stroke-width=".22">0.5704</text>
<text transform="translate(1620.3 637.2) scale(0.8823 1)" font-size="10.2" fill="#000" stroke="#000" stroke-width=".22">0.00</text>
<text transform="translate(1620.3 698.2) scale(0.8823 1)" font-size="10.2" fill="#000" stroke="#000" stroke-width=".22">-0.9571</text>
<text transform="translate(1619.8 714.2) scale(0.8823 1)" font-size="10.2" fill="#000" stroke="#000" stroke-width=".22">100</text>
<text transform="translate(1619.8 729.2) scale(0.8823 1)" font-size="10.2" fill="#000" stroke="#000" stroke-width=".22">80</text>
<text transform="translate(1619.8 760.2) scale(0.8823 1)" font-size="10.2" fill="#000" stroke="#000" stroke-width=".22">50</text>
<text transform="translate(1619.8 797.2) scale(0.8823 1)" font-size="10.2" fill="#000" stroke="#000" stroke-width=".22">15</text>
<text transform="translate(1619.8 806.2) scale(0.8823 1)" font-size="10.2" fill="#000" stroke="#000" stroke-width=".22">0</text>
</svg>
</body></html>
